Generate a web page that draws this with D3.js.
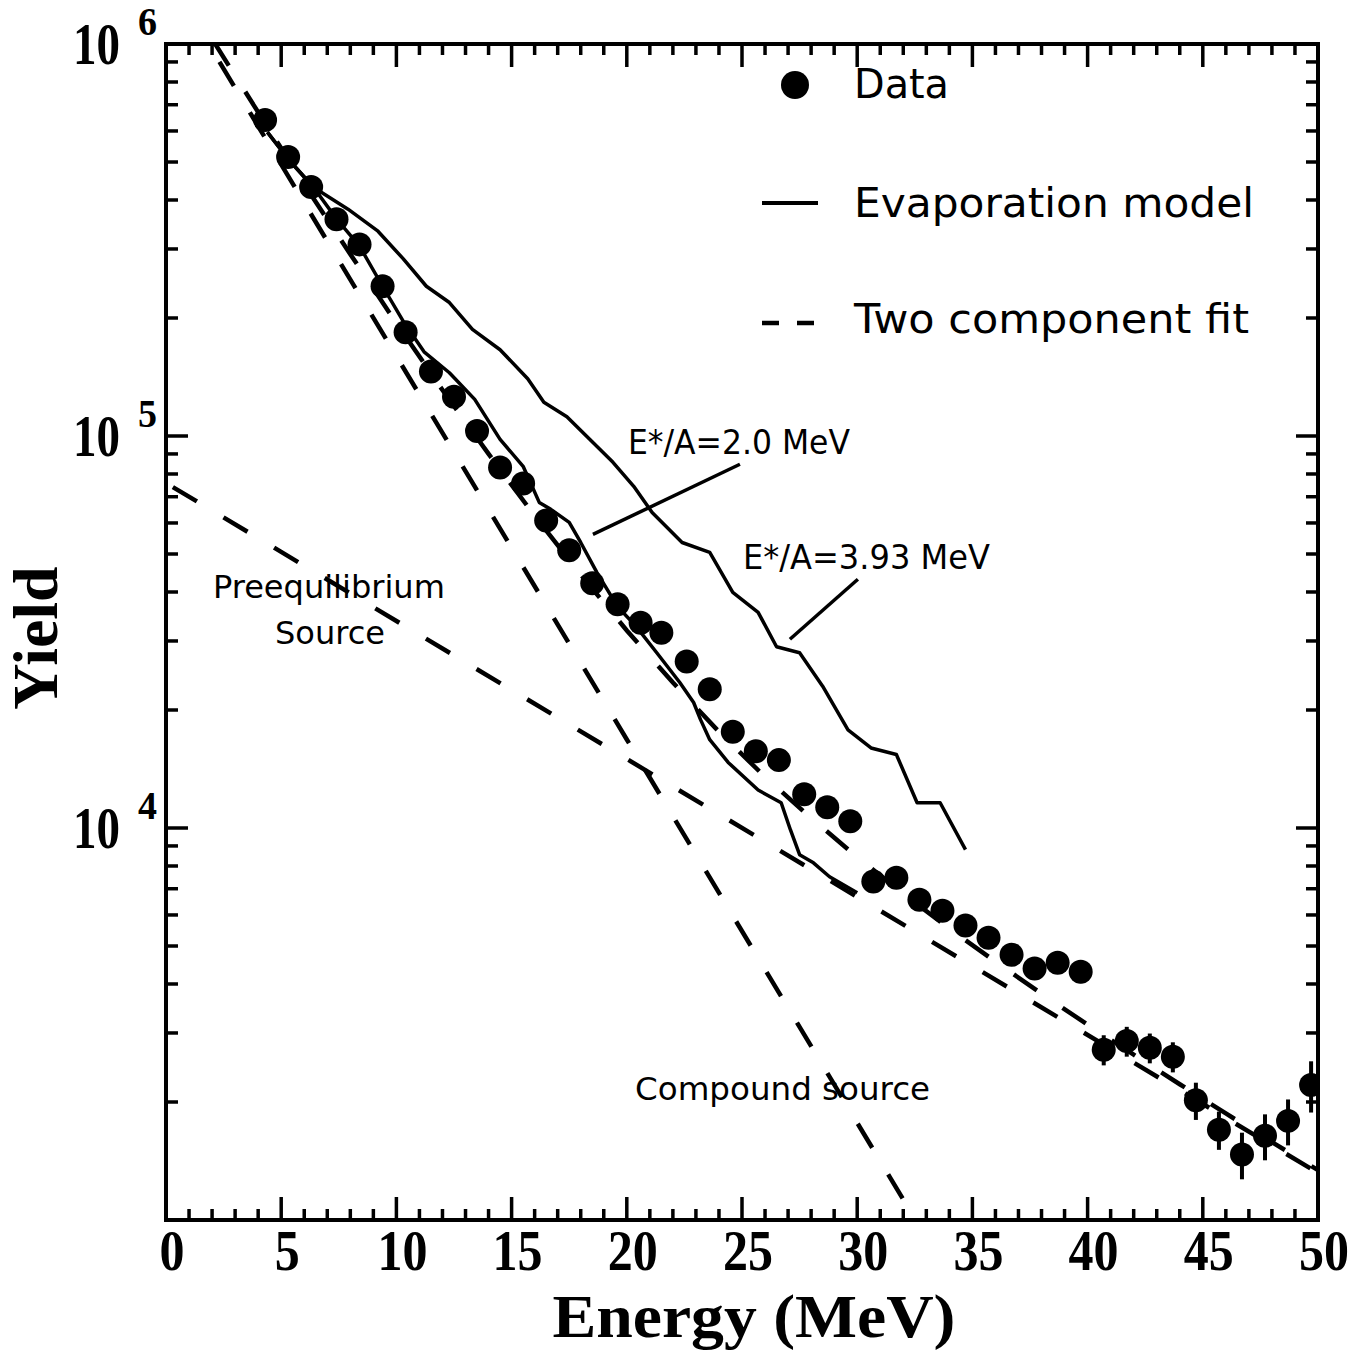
<!DOCTYPE html>
<html><head><meta charset="utf-8">
<script src="https://cdn.jsdelivr.net/npm/d3@7"></script>
<style>body{margin:0;background:#fff}svg{display:block}</style>
</head><body>
<svg id="chart" width="1360" height="1352"></svg>
<script>
// ---------------- data ----------------
const energy = [4.3,5.3,6.3,7.4,8.4,9.4,10.4,11.5,12.5,13.5,14.5,15.5,16.5,17.5,18.5,19.6,20.6,21.5,22.6,23.6,
                24.6,25.6,26.6,27.7,28.7,29.7,30.7,31.7,32.7,33.7,34.7,35.7,36.7,37.7,38.7,39.7,
                40.7,41.7,42.7,43.7,44.7,45.7,46.7,47.7,48.7,49.7];
const yieldData = [6.40e5,5.15e5,4.32e5,3.57e5,3.08e5,2.41e5,1.84e5,1.46e5,1.26e5,1.03e5,8.31e4,7.57e4,6.09e4,5.11e4,4.21e4,3.72e4,3.34e4,3.15e4,2.66e4,2.26e4,
                   1.76e4,1.57e4,1.49e4,1.22e4,1.13e4,1.04e4,7.30e3,7.47e3,6.56e3,6.15e3,5.64e3,5.25e3,4.75e3,4.38e3,4.53e3,4.30e3,
                   2.72e3,2.86e3,2.75e3,2.61e3,2.02e3,1.70e3,1.47e3,1.64e3,1.79e3,2.21e3];
const yieldErr = [6e3,5e3,4e3,3.5e3,3e3,2.5e3,2e3,1.5e3,1.3e3,1.1e3,900,800,700,600,500,450,400,380,330,290,
                  240,220,210,180,170,160,250,260,240,230,220,210,200,260,280,280,
                  240,250,240,230,220,190,200,220,240,330];

// Evaporation model, E*/A = 2.0 MeV
const evap20E = [4.4,5.3,6.4,7.4,8.4,9.4,10.3,11.2,12.3,13.4,14.5,15.5,16.2,16.7,17.5,18.0,18.7,19.6,20.4,21.3,22.3,22.9,23.2,23.6,24.4,25.7,26.7,27.1,27.5,28.1,28.8,30.0];
const evap20Y = [5.96e5,5.09e5,4.31e5,3.58e5,3.05e5,2.41e5,1.96e5,1.64e5,1.45e5,1.24e5,9.8e4,8.37e4,6.77e4,6.50e4,6.02e4,5.35e4,4.49e4,3.67e4,3.27e4,2.80e4,2.35e4,2.09e4,1.89e4,1.68e4,1.47e4,1.25e4,1.16e4,9.9e3,8.55e3,8.15e3,7.51e3,6.84e3];
// Evaporation model, E*/A = 3.93 MeV
const evap393E = [4.4,5.3,6.4,7.9,9.2,10.3,11.3,12.3,13.3,14.5,15.7,16.4,17.4,18.4,19.4,20.3,21.1,22.4,23.6,24.6,25.7,26.5,27.5,28.5,29.6,30.6,31.7,32.6,33.6,34.7];
const evap393Y = [5.96e5,5.09e5,4.31e5,3.79e5,3.33e5,2.83e5,2.41e5,2.19e5,1.87e5,1.66e5,1.40e5,1.22e5,1.12e5,9.80e4,8.57e4,7.44e4,6.38e4,5.35e4,5.05e4,3.99e4,3.55e4,2.90e4,2.80e4,2.30e4,1.78e4,1.60e4,1.54e4,1.16e4,1.16e4,8.81e3];

// Two component fit: compound source, preequilibrium source and their sum
const compoundE = [1,10,20,30,34];
const compoundY = [1.212e6,1.598e5,1.682e4,1.770e3,719];
const preeqE = [0,50];
const preeqY = [7.59e4,1.318e3];
const fitE = [1,2,3,4,5,6,8,10,12,14,16,18,20,22,24,26,28,30,32,34,36,38,40,42,44,46,48,50];
const fitY = [1.28e6,1.03e6,8.3e5,6.7e5,5.42e5,4.38e5,2.91e5,1.94e5,1.31e5,9.0e4,6.26e4,4.43e4,3.19e4,2.35e4,1.76e4,1.35e4,1.06e4,8.43e3,6.80e3,5.54e3,4.56e3,3.78e3,3.15e3,2.64e3,2.22e3,1.87e3,1.58e3,1.34e3];

const xTickLabels = [0,5,10,15,20,25,30,35,40,45,50];
const yDecades = [6,5,4];
const legendLabels = ["Data","Evaporation model","Two component fit"];

// ---------------- layout ----------------
const L = 166, R = 1318, T = 44, B = 1220;
const x = d3.scaleLinear().domain([0,50]).range([L,R]);
const y = d3.scaleLog().domain([1e3,1e6]).range([B,T]);
const svg = d3.select("#chart");
const serif = "'Liberation Serif','Times New Roman',serif";
const sans = "'DejaVu Sans','Noto Sans',sans-serif";

svg.append("defs").append("clipPath").attr("id","plot")
  .append("rect").attr("x",L).attr("y",T).attr("width",R-L).attr("height",B-T);

// ticks
const minorX = d3.range(0,51).filter(d=>d%5!==0);
const majorX = d3.range(0,51,5).filter(d=>d>0 && d<50);
const minorY = [];
[1e3,1e4,1e5].forEach(dec=>{for(let k=2;k<=9;k++) minorY.push(k*dec);});
const majorY = [1e4,1e5];

const tk = svg.append("g").attr("stroke","#000").attr("stroke-width",3.5);
function vticks(vals,len){
  vals.forEach(v=>{
    tk.append("line").attr("x1",x(v)).attr("x2",x(v)).attr("y1",B).attr("y2",B-len);
    tk.append("line").attr("x1",x(v)).attr("x2",x(v)).attr("y1",T).attr("y2",T+len);
  });
}
function hticks(vals,len){
  vals.forEach(v=>{
    tk.append("line").attr("y1",y(v)).attr("y2",y(v)).attr("x1",L).attr("x2",L+len);
    tk.append("line").attr("y1",y(v)).attr("y2",y(v)).attr("x1",R).attr("x2",R-len);
  });
}
vticks(minorX,11); vticks(majorX,23); hticks(minorY,12); hticks(majorY,22);

// frame
svg.append("rect").attr("x",L).attr("y",T).attr("width",R-L).attr("height",B-T)
  .attr("fill","none").attr("stroke","#000").attr("stroke-width",4);

// x tick labels (condensed bold serif)
svg.append("g").selectAll("text").data(xTickLabels).join("text")
  .attr("x",d=>x(d)+6).attr("y",1270).attr("text-anchor","middle")
  .attr("font-family",serif).attr("font-weight","bold").attr("font-size",56)
  .attr("textLength",d=>d<10?25:50).attr("lengthAdjust","spacingAndGlyphs")
  .text(d=>d);

// y tick labels (10^n)
const yl = svg.append("g").selectAll("g").data(yDecades).join("g");
yl.append("text").attr("x",120).attr("y",d=>y(Math.pow(10,d))+20).attr("text-anchor","end")
  .attr("font-family",serif).attr("font-weight","bold").attr("font-size",60)
  .attr("textLength",47).attr("lengthAdjust","spacingAndGlyphs").text("10");
yl.append("text").attr("x",138).attr("y",d=>y(Math.pow(10,d))-9).attr("text-anchor","start")
  .attr("font-family",serif).attr("font-weight","bold").attr("font-size",40)
  .attr("textLength",19).attr("lengthAdjust","spacingAndGlyphs").text(d=>d);

// axis titles
svg.append("text").attr("x",(L+R)/2+12).attr("y",1337).attr("text-anchor","middle")
  .attr("font-family",serif).attr("font-weight","bold").attr("font-size",62)
  .attr("textLength",403).attr("lengthAdjust","spacingAndGlyphs").text("Energy (MeV)");
svg.append("text").attr("transform","translate(57,638) rotate(-90)").attr("text-anchor","middle")
  .attr("font-family",serif).attr("font-weight","bold").attr("font-size",64).text("Yield");

// curves
const plot = svg.append("g").attr("clip-path","url(#plot)");
const line = d3.line().x(d=>x(d[0])).y(d=>y(d[1]));
const zip = (a,b)=>a.map((v,i)=>[v,b[i]]);
const dash = "28,31";
plot.append("path").datum(zip(compoundE,compoundY)).attr("d",line)
  .attr("fill","none").attr("stroke","#000").attr("stroke-width",4.5).attr("stroke-dasharray",dash);
plot.append("path").datum(zip(preeqE,preeqY)).attr("d",line)
  .attr("fill","none").attr("stroke","#000").attr("stroke-width",4.5).attr("stroke-dasharray",dash).attr("stroke-dashoffset",-8);
plot.append("path").datum(zip(fitE,fitY)).attr("d",line)
  .attr("fill","none").attr("stroke","#000").attr("stroke-width",4.5).attr("stroke-dasharray",dash).attr("stroke-dashoffset",12);
plot.append("path").datum(zip(evap20E,evap20Y)).attr("d",line)
  .attr("fill","none").attr("stroke","#000").attr("stroke-width",3.5).attr("stroke-linejoin","round");
plot.append("path").datum(zip(evap393E,evap393Y)).attr("d",line)
  .attr("fill","none").attr("stroke","#000").attr("stroke-width",3.5).attr("stroke-linejoin","round");

// data
const pts = energy.map((e,i)=>({e, v:yieldData[i], err:yieldErr[i]}));
plot.append("g").selectAll("line").data(pts).join("line")
  .attr("x1",d=>x(d.e)).attr("x2",d=>x(d.e))
  .attr("y1",d=>y(d.v-d.err)).attr("y2",d=>y(d.v+d.err))
  .attr("stroke","#000").attr("stroke-width",4);
plot.append("g").selectAll("circle").data(pts).join("circle")
  .attr("cx",d=>x(d.e)).attr("cy",d=>y(d.v)).attr("r",12).attr("fill","#000");

// annotations
const ann = svg.append("g").attr("font-family",sans).attr("fill","#000");
function label(txt,e,v,len,size,anchor){
  ann.append("text").attr("x",x(e)).attr("y",y(v)).attr("font-size",size)
    .attr("text-anchor",anchor||"start")
    .attr("textLength",len).attr("lengthAdjust","spacingAndGlyphs").text(txt);
}
label("E*/A=2.0 MeV",20.05,8.98e4,222,34);
label("E*/A=3.93 MeV",25.04,4.57e4,247,34);
label("Preequilibrium",7.07,3.87e4,232,32,"middle");
label("Source",7.12,2.94e4,110,32,"middle");
label("Compound source",20.36,2.02e3,295,32);
const pointers = [[[24.91,8.47e4],[18.53,5.61e4]],[[30.03,4.31e4],[27.08,3.03e4]]];
svg.append("g").selectAll("path").data(pointers).join("path").attr("d",line)
  .attr("fill","none").attr("stroke","#000").attr("stroke-width",3.5);

// legend
const lg = svg.append("g").attr("font-family",sans);
lg.append("circle").attr("cx",795).attr("cy",85).attr("r",14).attr("fill","#000");
lg.append("line").attr("x1",762).attr("x2",818).attr("y1",203).attr("y2",203).attr("stroke","#000").attr("stroke-width",4);
lg.append("line").attr("x1",762).attr("x2",818).attr("y1",323).attr("y2",323).attr("stroke","#000").attr("stroke-width",4.5).attr("stroke-dasharray","17,18");
const lgY = [98,217,333], lgLen = [95,400,395];
lg.selectAll("text").data(legendLabels).join("text")
  .attr("x",854).attr("y",(d,i)=>lgY[i]).attr("font-size",40)
  .attr("textLength",(d,i)=>lgLen[i]).attr("lengthAdjust","spacingAndGlyphs").text(d=>d);
</script>
</body></html>
